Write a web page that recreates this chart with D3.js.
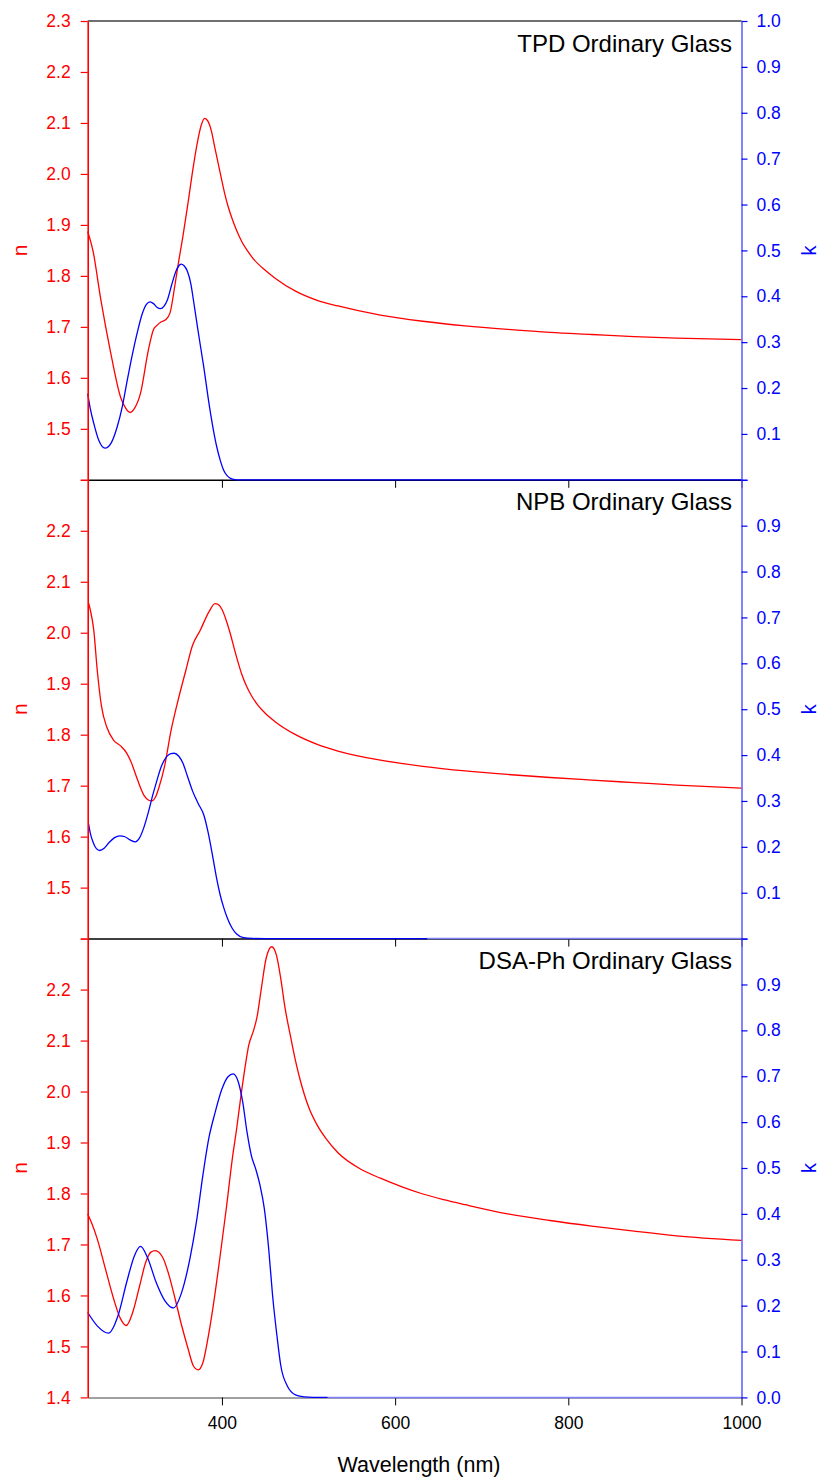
<!DOCTYPE html>
<html>
<head>
<meta charset="utf-8">
<script src="https://cdn.jsdelivr.net/npm/d3@7/dist/d3.min.js"></script>
<style>
  html, body { margin: 0; padding: 0; background: #fff; }
  svg { display: block; font-family: "Liberation Sans", Arial, sans-serif; }
</style>
</head>
<body>
<div id="chart"></div>
<script>
// ---------------- DATA (wavelength nm, value) ----------------
const panelTitles = ["TPD Ordinary Glass", "NPB Ordinary Glass", "DSA-Ph Ordinary Glass"];

const tpdN = [[245,1.887],[251,1.850],[260,1.755],[271,1.654],[283,1.562],[289,1.540],[294,1.532],[299,1.540],[306,1.570],[315,1.654],[321,1.695],[325,1.703],[330,1.710],[335,1.714],[340,1.727],[346,1.785],[350,1.828],[355,1.878],[361,1.945],[367,2.015],[372,2.065],[376,2.095],[380,2.109],[384,2.103],[388,2.083],[392,2.050],[398,2.002],[403,1.963],[407,1.937],[412,1.911],[417,1.889],[423,1.867],[430,1.848],[437,1.832],[450,1.811],[461,1.796],[485,1.770],[510,1.752],[534,1.741],[583,1.723],[632,1.711],[681,1.702],[730,1.695],[779,1.689],[827,1.685],[876,1.681],[925,1.678],[1000,1.675]];
const tpdK = [[245,0.188],[248,0.155],[252,0.123],[258,0.085],[265,0.069],[272,0.080],[279,0.115],[285,0.160],[290,0.210],[296,0.268],[302,0.319],[308,0.362],[313,0.383],[317,0.388],[321,0.384],[325,0.376],[329,0.373],[333,0.378],[337,0.392],[342,0.425],[347,0.455],[350,0.466],[353,0.470],[356,0.467],[360,0.455],[364,0.428],[367,0.393],[372,0.330],[379,0.246],[386,0.155],[390,0.110],[394,0.072],[398,0.043],[402,0.021],[406,0.009],[410,0.003],[415,0.0005],[420,0],[1000,0]];

const npbN = [[246,2.058],[248,2.045],[252,2.005],[256,1.927],[261,1.855],[267,1.815],[275,1.789],[283,1.778],[290,1.764],[295,1.747],[302,1.714],[310,1.681],[315,1.672],[319,1.670],[324,1.680],[327,1.695],[334,1.740],[341,1.806],[349,1.865],[358,1.924],[366,1.975],[375,2.005],[385,2.041],[392,2.057],[395,2.056],[400,2.046],[405,2.024],[410,1.996],[415,1.964],[419,1.940],[423,1.918],[429,1.893],[435,1.874],[441,1.859],[450,1.842],[461,1.826],[485,1.800],[510,1.781],[534,1.768],[583,1.750],[632,1.738],[681,1.729],[730,1.722],[779,1.716],[827,1.711],[876,1.706],[925,1.701],[1000,1.695]];
const npbK = [[246,0.250],[248,0.230],[251,0.211],[255,0.196],[259,0.192],[264,0.197],[270,0.210],[276,0.220],[282,0.224],[288,0.222],[294,0.215],[300,0.211],[305,0.220],[310,0.243],[315,0.275],[320,0.312],[325,0.345],[330,0.375],[336,0.396],[341,0.403],[345,0.404],[350,0.398],[355,0.382],[360,0.355],[366,0.322],[373,0.293],[379,0.270],[384,0.232],[390,0.172],[394,0.130],[398,0.095],[402,0.068],[406,0.046],[412,0.022],[417,0.010],[425,0.002],[435,0.0003],[450,0],[637,0]];

const dsaN = [[245,1.760],[250,1.740],[256,1.711],[265.5,1.652],[275,1.593],[283,1.554],[289.5,1.541],[297,1.567],[305,1.619],[312,1.665],[318,1.685],[323,1.688],[331.5,1.675],[339,1.639],[346,1.593],[353.5,1.541],[361,1.495],[367,1.462],[372.5,1.454],[378,1.468],[383,1.508],[390,1.580],[397.5,1.672],[405,1.770],[412,1.868],[417,1.927],[422,1.992],[427,2.051],[431,2.091],[436,2.117],[440.5,2.146],[445.5,2.202],[451,2.261],[457.5,2.284],[463,2.267],[468,2.221],[473,2.163],[479,2.110],[485,2.060],[490,2.025],[500,1.970],[510,1.934],[520,1.908],[534,1.880],[559,1.849],[583,1.830],[608,1.813],[632,1.799],[656,1.788],[681,1.778],[730,1.760],[779,1.747],[827,1.736],[876,1.726],[925,1.717],[1000,1.708]];
const dsaK = [[245,0.185],[256,0.156],[269,0.140],[280,0.178],[290,0.251],[299,0.309],[306,0.329],[314,0.305],[324,0.251],[334,0.211],[344,0.195],[353.5,0.229],[363,0.302],[370.5,0.382],[378,0.484],[385,0.566],[392,0.620],[400,0.672],[407,0.699],[413,0.705],[419,0.687],[424,0.644],[429,0.578],[434,0.527],[439,0.498],[444,0.462],[449,0.411],[454,0.324],[458.5,0.222],[463.5,0.135],[468,0.069],[475.5,0.025],[485.5,0.005],[495,0.001],[505,0],[522,0]];

const wlDomain = [245, 1000];
const wlTicks = [400, 600, 800, 1000];
const nDomain = [1.4, 2.3];
const kDomain = [0, 1.0];
const nTicks = [1.4,1.5,1.6,1.7,1.8,1.9,2.0,2.1,2.2,2.3];
const kTicks = [0,0.1,0.2,0.3,0.4,0.5,0.6,0.7,0.8,0.9,1.0];
const nLabelsTop = [1.5,1.6,1.7,1.8,1.9,2.0,2.1,2.2,2.3];
const nLabelsMid = [1.5,1.6,1.7,1.8,1.9,2.0,2.1,2.2];
const nLabelsBot = [1.4,1.5,1.6,1.7,1.8,1.9,2.0,2.1,2.2];
const kLabelsTop = [0.1,0.2,0.3,0.4,0.5,0.6,0.7,0.8,0.9,1.0];
const kLabelsMid = [0.1,0.2,0.3,0.4,0.5,0.6,0.7,0.8,0.9];
const kLabelsBot = [0,0.1,0.2,0.3,0.4,0.5,0.6,0.7,0.8,0.9];

// ---------------- LAYOUT ----------------
const W = 822, H = 1479;
const plotL = 87.7, plotR = 741.5;
const panelTops = [21, 479.8, 938.6];
const panelH = 458.8;
const RED = "#ff0000", BLUE = "#0000ff";

const panels = [
  { title: panelTitles[0], n: tpdN, k: tpdK, nLab: nLabelsTop, kLab: kLabelsTop, axisColor: "#000000", topBorder: true },
  { title: panelTitles[1], n: npbN, k: npbK, nLab: nLabelsMid, kLab: kLabelsMid, axisColor: "#000000", topBorder: false },
  { title: panelTitles[2], n: dsaN, k: dsaK, nLab: nLabelsBot, kLab: kLabelsBot, axisColor: "#808080", topBorder: false, xLabels: true }
];

const svg = d3.select("#chart").append("svg").attr("width", W).attr("height", H);
svg.append("rect").attr("width", W).attr("height", H).attr("fill", "#fff");

const x = d3.scaleLinear().domain(wlDomain).range([plotL, plotR]);
const fmt = d3.format(".1f");
const near = (arr, d) => arr.some(v => Math.abs(v - d) < 1e-6);

panels.forEach((p, i) => {
  const top = panelTops[i], bot = top + panelH;
  const yN = d3.scaleLinear().domain(nDomain).range([bot, top]);
  const yK = d3.scaleLinear().domain(kDomain).range([bot, top]);
  const g = svg.append("g");

  if (p.topBorder) {
    g.append("line").attr("x1", plotL).attr("x2", plotR).attr("y1", top).attr("y2", top)
      .attr("stroke", "#404040").attr("stroke-width", 1.5);
  }

  // bottom axis
  const xAxis = d3.axisBottom(x).tickValues(wlTicks).tickSize(8).tickSizeOuter(0).tickPadding(11)
    .tickFormat(p.xLabels ? d3.format("d") : () => "");
  const xg = g.append("g").attr("transform", `translate(0,${bot})`).call(xAxis);
  xg.select(".domain").attr("stroke", p.axisColor).attr("stroke-width", 1.5);
  xg.selectAll(".tick line").attr("stroke", "#000");
  xg.selectAll(".tick text").attr("fill", "#000").attr("font-size", 17.5)
    .attr("font-family", "Liberation Sans, Arial, sans-serif");

  // light blue continuation beyond the end of the k data
  const kEnd = p.k[p.k.length - 1][0];
  if (kEnd < wlDomain[1]) {
    g.append("line").attr("x1", x(kEnd)).attr("x2", x(wlDomain[1])).attr("y1", bot).attr("y2", bot)
      .attr("stroke", "#8080ff").attr("stroke-width", 1.5);
  }

  // data lines
  const lineN = d3.line().x(d => x(d[0])).y(d => yN(d[1])).curve(d3.curveMonotoneX);
  const lineK = d3.line().x(d => x(d[0])).y(d => yK(d[1])).curve(d3.curveMonotoneX);
  g.append("path").datum(p.n).attr("d", lineN).attr("fill", "none").attr("stroke", RED).attr("stroke-width", 1.3);
  g.append("path").datum(p.k).attr("d", lineK).attr("fill", "none").attr("stroke", BLUE).attr("stroke-width", 1.3);

  // left axis (n)
  const nAxis = d3.axisLeft(yN).tickValues(nTicks).tickSize(7).tickSizeOuter(0).tickPadding(10)
    .tickFormat(d => near(p.nLab, d) ? fmt(d) : "");
  const ng = g.append("g").attr("transform", `translate(${plotL},0)`).call(nAxis);
  ng.select(".domain").attr("stroke", RED).attr("stroke-width", 1.6);
  ng.selectAll(".tick line").attr("stroke", RED).attr("stroke-width", 1.2);
  ng.selectAll(".tick text").attr("fill", RED).attr("font-size", 17.5)
    .attr("font-family", "Liberation Sans, Arial, sans-serif");

  // right axis (k)
  const kAxis = d3.axisRight(yK).tickValues(kTicks).tickSize(6).tickSizeOuter(0).tickPadding(9)
    .tickFormat(d => near(p.kLab, d) ? fmt(d) : "");
  const kg = g.append("g").attr("transform", `translate(${plotR},0)`).call(kAxis);
  kg.select(".domain").attr("stroke", "#5a5aff").attr("stroke-width", 1.5);
  kg.selectAll(".tick line").attr("stroke", BLUE).attr("stroke-width", 1.2);
  kg.selectAll(".tick text").attr("fill", BLUE).attr("font-size", 17.5)
    .attr("font-family", "Liberation Sans, Arial, sans-serif");

  // axis titles
  const mid = (top + bot) / 2;
  g.append("text").attr("transform", `translate(27,${mid}) rotate(-90)`).attr("text-anchor", "middle")
    .attr("fill", RED).attr("font-size", 21).text("n");
  g.append("text").attr("transform", `translate(816,${mid}) rotate(-90)`).attr("text-anchor", "middle")
    .attr("fill", BLUE).attr("font-size", 20).text("k");

  // panel title
  g.append("text").attr("x", 732).attr("y", top + 30.5).attr("text-anchor", "end")
    .attr("fill", "#000").attr("font-size", 24).text(p.title);
});

// x axis title
svg.append("text").attr("x", 419).attr("y", 1471.5).attr("text-anchor", "middle")
  .attr("fill", "#000").attr("font-size", 21.5).text("Wavelength (nm)");
</script>
</body>
</html>
